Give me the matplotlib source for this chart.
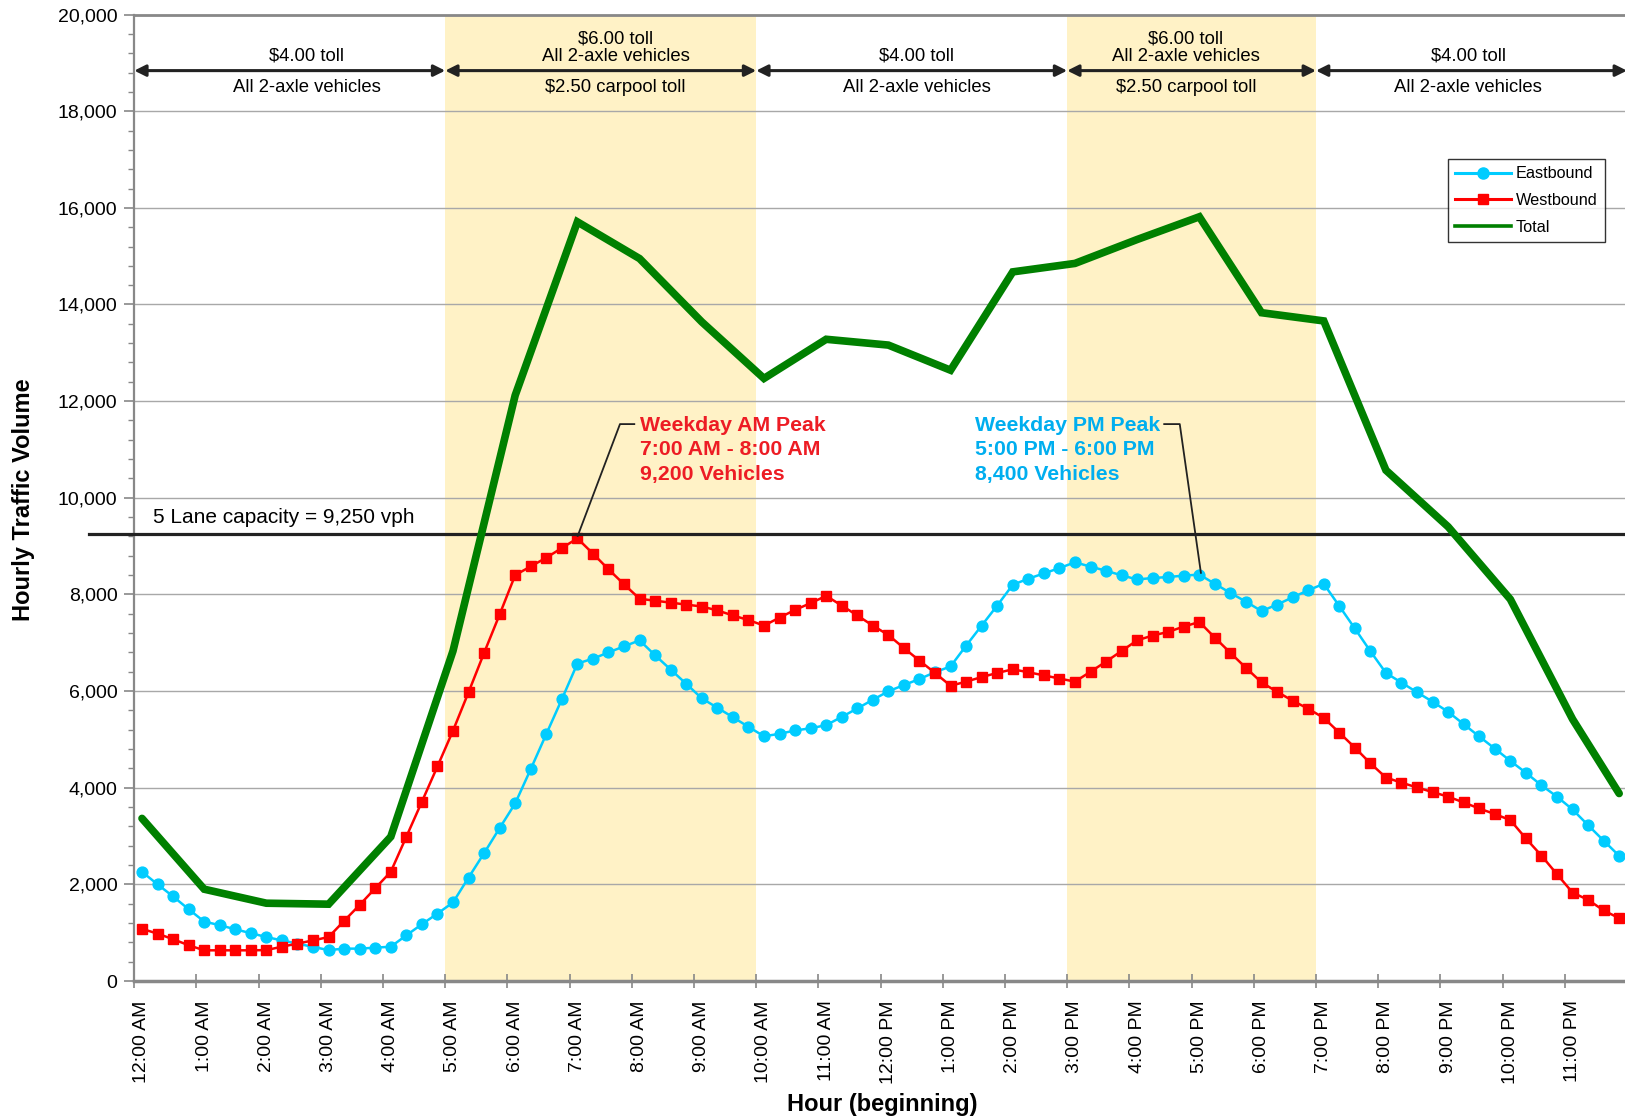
# Hourly traffic volume by direction, weekday, with toll periods
import matplotlib
matplotlib.use("Agg")
import numpy as np
import matplotlib.pyplot as plt
from matplotlib.lines import Line2D
from matplotlib.ticker import FuncFormatter, MultipleLocator, FixedLocator

plt.rcParams['font.family'] = ['Liberation Sans', 'DejaVu Sans']

# 1. Data (15-minute intervals, 96 per day)
east = [2260, 2000, 1750, 1485, 1230, 1155, 1070, 990,
        910, 840, 775, 705, 640, 670, 670, 690,
        710, 945, 1175, 1395, 1625, 2140, 2645, 3165,
        3675, 4385, 5110, 5830, 6570, 6670, 6800, 6925,
        7050, 6740, 6445, 6150, 5850, 5655, 5460, 5260,
        5065, 5115, 5185, 5230, 5295, 5465, 5640, 5820,
        5995, 6125, 6250, 6390, 6510, 6940, 7355, 7770,
        8200, 8325, 8435, 8545, 8665, 8575, 8490, 8395,
        8310, 8340, 8360, 8390, 8410, 8220, 8030, 7850,
        7655, 7790, 7940, 8085, 8220, 7760, 7295, 6825,
        6375, 6175, 5975, 5780, 5570, 5315, 5060, 4810,
        4555, 4310, 4050, 3815, 3550, 3225, 2905, 2590]

west = [1080, 980, 865, 740, 635, 635, 635, 635,
        640, 710, 775, 840, 910, 1245, 1575, 1920,
        2260, 2985, 3710, 4440, 5180, 5975, 6790, 7585,
        8400, 8580, 8760, 8960, 9160, 8845, 8520, 8210,
        7910, 7870, 7830, 7790, 7750, 7670, 7565, 7470,
        7355, 7520, 7680, 7820, 7970, 7770, 7565, 7355,
        7160, 6890, 6630, 6375, 6110, 6195, 6290, 6375,
        6450, 6390, 6325, 6260, 6195, 6400, 6610, 6830,
        7050, 7150, 7225, 7335, 7430, 7105, 6790, 6480,
        6180, 5985, 5800, 5635, 5445, 5140, 4830, 4505,
        4210, 4105, 4005, 3910, 3815, 3695, 3570, 3455,
        3330, 2950, 2595, 2210, 1830, 1680, 1460, 1300]

# total is given once per hour (plus the last interval)
total_idx = [0, 4, 8, 12, 16, 20, 24, 28, 32, 36, 40, 44, 48,
             52, 56, 60, 64, 68, 72, 76, 80, 84, 88, 92, 95]
total = [3365, 1900, 1610, 1590, 2985, 6830, 12120, 15710, 14950,
         13640, 12470, 13280, 13160, 12640, 14675, 14850, 15345,
         15815, 13830, 13660, 10570, 9400, 7900, 5420, 3880]

hour_labels = ["12:00 AM"] + ["%d:00 AM" % h for h in range(1, 12)] + \
              ["12:00 PM"] + ["%d:00 PM" % h for h in range(1, 12)]

capacity = 9250
peak_periods = [(5, 10), (15, 19)]
toll_edges = [0, 5, 10, 15, 19, 24]
toll_top = [["$4.00 toll"], ["$6.00 toll", "All 2-axle vehicles"], ["$4.00 toll"],
            ["$6.00 toll", "All 2-axle vehicles"], ["$4.00 toll"]]
toll_bottom = ["All 2-axle vehicles", "$2.50 carpool toll", "All 2-axle vehicles",
               "$2.50 carpool toll", "All 2-axle vehicles"]
toll_text_x = [2.77, 7.74, 12.58, 16.91, 21.45]

# 2. Figure
fig = plt.figure(figsize=(16.25, 11.2), dpi=100)
ax = fig.add_axes([0.0826, 0.1241, 0.9186, 0.8629])

x15 = (np.arange(96) + 0.5) / 4
x_total = x15[total_idx]

for a, b in peak_periods:
    ax.axvspan(a, b, color='#FFF2C6', zorder=0, lw=0)

ax.yaxis.grid(True, color='#A8A8A8', lw=1.0)
ax.set_axisbelow(True)

ax.plot(x15, east, color='#00CCFF', lw=1.8, marker='o', ms=7.8, zorder=3)
ax.plot(x15, west, color='#FF0000', lw=1.8, marker='s', ms=6.5, zorder=4)
ax.plot([-0.73, 24], [capacity, capacity], color='#222222', lw=2.3, zorder=5, clip_on=False)
ax.plot(x_total, total, color='#008000', lw=5.5, zorder=6,
        solid_joinstyle='miter', solid_capstyle='round')

ax.text(0.3, 9585, "5 Lane capacity = 9,250 vph", fontsize=15, va='center', ha='left')

# toll arrows and text
for k in range(len(toll_edges) - 1):
    x0, x1 = toll_edges[k], toll_edges[k + 1]
    ax.annotate('', xy=(x1, 18840), xytext=(x0, 18840), annotation_clip=False,
                arrowprops=dict(arrowstyle='<|-|>', color='#222222', lw=2.2,
                                mutation_scale=17, shrinkA=0, shrinkB=0))
    lines = toll_top[k]
    if len(lines) == 1:
        ax.text(toll_text_x[k], 19137, lines[0], fontsize=13.3, ha='center', va='center')
    else:
        ax.text(toll_text_x[k], 19497, lines[0], fontsize=13.3, ha='center', va='center')
        ax.text(toll_text_x[k], 19137, lines[1], fontsize=13.3, ha='center', va='center')
    ax.text(toll_text_x[k], 18500, toll_bottom[k], fontsize=13.3, ha='center', va='center')

# peak annotations
ax.text(8.125, 10995, "Weekday AM Peak\n7:00 AM - 8:00 AM\n9,200 Vehicles",
        color='#ED1C24', fontsize=15.3, fontweight='bold', ha='left', va='center',
        linespacing=1.38)
ax.plot([8.04, 7.81, 7.13], [11525, 11525, 9210], color='#222222', lw=1.3, zorder=7)
ax.text(13.51, 10995, "Weekday PM Peak\n5:00 PM - 6:00 PM\n8,400 Vehicles",
        color='#00AEEF', fontsize=15.3, fontweight='bold', ha='left', va='center',
        linespacing=1.38)
ax.plot([16.56, 16.81, 17.15], [11525, 11525, 8447], color='#222222', lw=1.3, zorder=7)

# 3. Axes formatting
ax.set_xlim(0, 24)
ax.set_ylim(0, 20000)

ax.xaxis.set_major_locator(FixedLocator(range(0, 24)))
ax.xaxis.set_minor_locator(FixedLocator([h + 0.125 for h in range(24)]))
ax.set_xticklabels([], minor=False)
ax.set_xticklabels(hour_labels, minor=True, rotation=90, fontsize=14)
ax.tick_params(axis='x', which='major', direction='inout', length=10, width=1.2, color='#888888')
ax.tick_params(axis='x', which='minor', length=0, pad=14)

ax.yaxis.set_major_locator(MultipleLocator(2000))
ax.yaxis.set_minor_locator(MultipleLocator(400))
ax.yaxis.set_major_formatter(FuncFormatter(lambda v, p: "{:,.0f}".format(v)))
ax.tick_params(axis='y', which='major', direction='out', length=7, width=1.2,
               color='#888888', labelsize=14, pad=5)
ax.tick_params(axis='y', which='minor', direction='out', length=4, width=1.0, color='#888888')

ax.spines['right'].set_visible(False)
ax.spines['left'].set_color('#888888')
ax.spines['left'].set_linewidth(1.6)
ax.spines['bottom'].set_color('#888888')
ax.spines['bottom'].set_linewidth(2.5)
ax.spines['top'].set_color('#888888')
ax.spines['top'].set_linewidth(2.0)

fig.text(0.0142, 0.554, "Hourly Traffic Volume", rotation=90, fontsize=17,
         fontweight='bold', ha='center', va='center')
fig.text(0.5428, 0.0134, "Hour (beginning)", fontsize=17, fontweight='bold',
         ha='center', va='center')

handles = [Line2D([], [], color='#00CCFF', lw=2.2, marker='o', ms=8),
           Line2D([], [], color='#FF0000', lw=2.2, marker='s', ms=6.5),
           Line2D([], [], color='#008000', lw=2.6)]
leg = ax.legend(handles, ['Eastbound', 'Westbound', 'Total'], loc='upper right',
                bbox_to_anchor=(0.985, 0.8505), fontsize=11.7, frameon=True,
                fancybox=False, edgecolor='black', handlelength=3.4,
                borderpad=0.45, labelspacing=0.72, borderaxespad=0, handletextpad=0.3)
leg.get_frame().set_linewidth(1.0)

fig.savefig("out.png", dpi=100)
